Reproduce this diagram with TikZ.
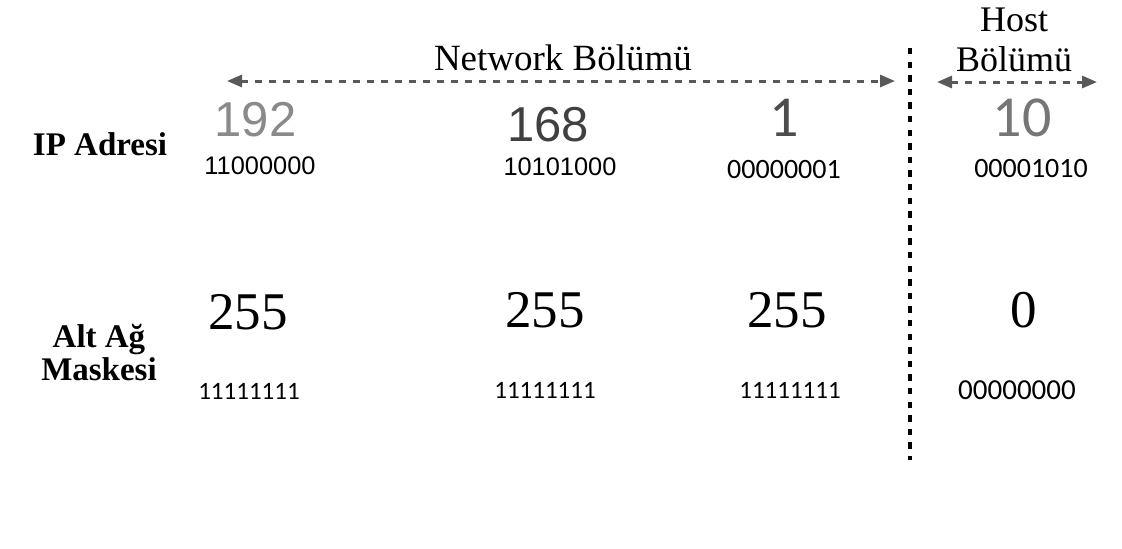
\documentclass[tikz,border=0pt]{standalone}
\usepackage{fontspec}
\setmainfont{Liberation Serif}
\newfontfamily\arialfont{Liberation Sans}
\newfontfamily\calibrifont{Carlito}
\usetikzlibrary{arrows.meta}

\definecolor{numlight}{HTML}{8A8A8A}
\definecolor{numdark}{HTML}{404040}
\definecolor{nummid}{HTML}{4D4D4D}
\definecolor{numgrey}{HTML}{767676}
\definecolor{arrowgrey}{HTML}{595959}

\begin{document}
\begin{tikzpicture}[x=0.5pt, y=-0.5pt,
  every node/.style={inner sep=0pt},
  rowlabel/.style={font=\fontsize{16.5}{16.5}\selectfont\bfseries, align=center, anchor=base},
  partlabel/.style={font=\fontsize{18.5}{20}\selectfont, align=center, anchor=base},
  octet/.style={font=\arialfont\fontsize{24.5}{24.5}\selectfont},
  octetc/.style={font=\calibrifont\fontsize{29}{29}\selectfont},
  maskval/.style={font=\fontsize{26.5}{26.5}\selectfont},
  bitsa/.style={font=\arialfont\fontsize{12.7}{12.7}\selectfont},
  bitsc/.style={font=\calibrifont\fontsize{14}{14}\selectfont},
  bitsm/.style={font=\calibrifont\fontsize{12.5}{12.5}\selectfont},
  span/.style={arrowgrey, line width=1.5pt, dash pattern=on 3.5pt off 3.5pt,
    {Triangle[length=7.5pt,width=6pt]}-{Triangle[length=7.5pt,width=6pt]}},
  divider/.style={black, line width=2pt, dash pattern=on 3.2pt off 3.6pt}]

\useasboundingbox (0,0) rectangle (1122,548);

% Part headings
\node[partlabel] (net)  at (563,70) {Network Bölümü};
\node[partlabel, font=\fontsize{18}{20}\selectfont] (host) at (1014,71) {Host\\Bölümü};

\coordinate (netL)  at (227,81);
\coordinate (netR)  at (895,81);
\coordinate (hostL) at (937,82);
\coordinate (hostR) at (1097,82);
\draw[span] (netL) -- (netR);
\draw[span] (hostL) -- (hostR);

\coordinate (divTop) at (910,48);
\coordinate (divBot) at (910,460);
\draw[divider] (divTop) -- (divBot);

% Row labels
\node[rowlabel] (ip)   at (100,155) {IP Adresi};
\node[rowlabel] (mask) at (99,380)  {Alt Ağ\\Maskesi};

% IP row
\node[octet, text=numlight] (ipA) at (255.5,120) {192};
\node[octet, text=numdark]  (ipB) at (548,125)   {168};
\node[octetc, text=nummid]  (ipC) at (784,118)   {1};
\node[octetc, text=numgrey] (ipD) at (1022,118)  {10};

\node[bitsa] (ipbinA) at (260,166)  {11000000};
\node[bitsa] (ipbinB) at (560,167)  {10101000};
\node[bitsc] (ipbinC) at (784,169)  {00000001};
\node[bitsc] (ipbinD) at (1031,168) {00001010};

% Mask row
\node[maskval] (mA) at (248,312.5) {255};
\node[maskval] (mB) at (545,310)   {255};
\node[maskval] (mC) at (787,310)   {255};
\node[maskval] (mD) at (1024,310)  {0};

\node[bitsm] (mbinA) at (249,391)  {11111111};
\node[bitsm] (mbinB) at (545,390)  {11111111};
\node[bitsm] (mbinC) at (790,390)  {11111111};
\node[bitsc, font=\calibrifont\fontsize{14.5}{14.5}\selectfont] (mbinD) at (1017,390) {00000000};

\end{tikzpicture}
\end{document}
